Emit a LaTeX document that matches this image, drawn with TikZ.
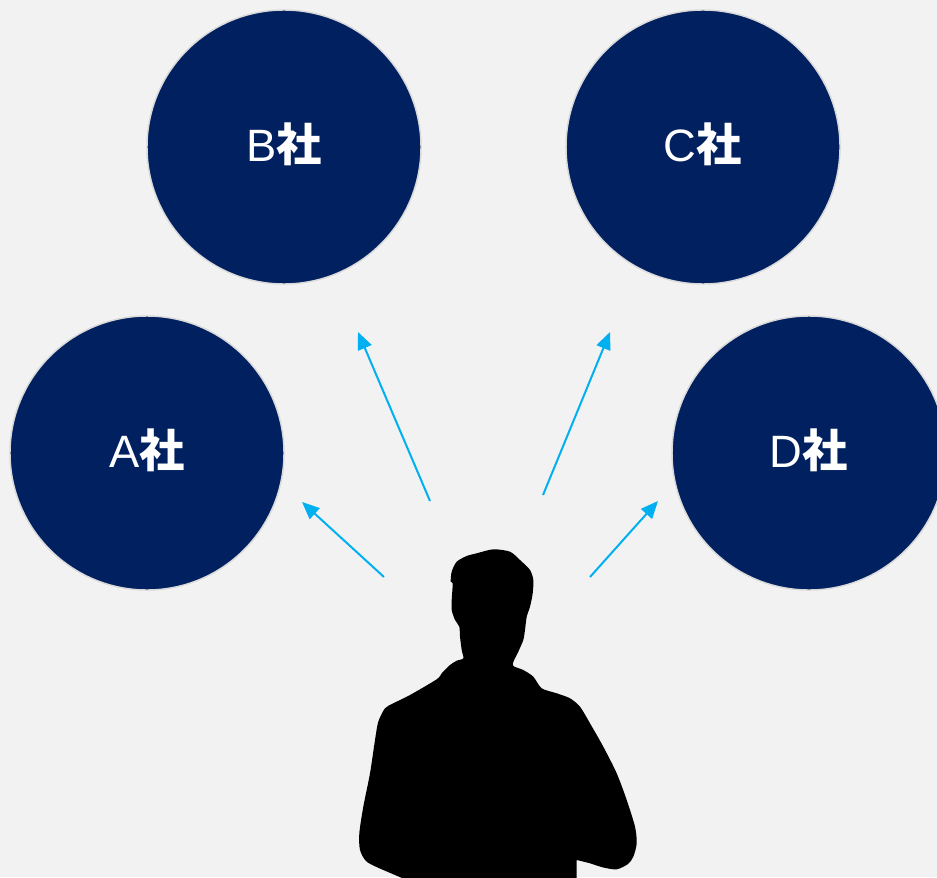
\documentclass[tikz,border=0pt]{standalone}
\usepackage{fontspec}
\setmainfont{Liberation Sans}
\newfontfamily\cjk{Noto Sans CJK JP}
\usetikzlibrary{arrows.meta}
\definecolor{bg}{HTML}{F2F2F2}
\definecolor{navy}{HTML}{002060}
\definecolor{rim}{HTML}{D9D9D9}
\definecolor{sky}{HTML}{00B0F0}
\begin{document}
\begin{tikzpicture}[x=0.75pt,y=-0.75pt,
  company/.style={circle,fill=navy,draw=rim,line width=1.1pt,minimum size=205.5pt,inner sep=0pt,
    text=white,font=\fontsize{34}{38}\selectfont},
  pointer/.style={draw=sky,line width=1.5pt,-{Triangle[length=13pt,width=11pt]}}]
\fill[bg] (0,0) rectangle (937,877);
\useasboundingbox (0,0) rectangle (937,877);
\begin{scope}
\clip (0,0) rectangle (937,877);
\node[company] (B) at (284,147) {};
\node[company] (C) at (703,147) {};
\node[company] (A) at (147,453) {};
\node[company] (D) at (809,453) {};
\end{scope}
\node[text=white,font=\fontsize{34}{38}\selectfont] (Bt) at ([yshift=2pt]B.center) {B{\cjk\bfseries 社}};
\node[text=white,font=\fontsize{34}{38}\selectfont] (Ct) at ([yshift=2pt]C.center) {C{\cjk\bfseries 社}};
\node[text=white,font=\fontsize{34}{38}\selectfont] (At) at ([yshift=2pt]A.center) {A{\cjk\bfseries 社}};
\node[text=white,font=\fontsize{34}{38}\selectfont] (Dt) at ([yshift=2pt]D.center) {D{\cjk\bfseries 社}};
\coordinate (a0) at (384,577); \coordinate (a1) at (302,502);
\coordinate (b0) at (430,501); \coordinate (b1) at (358,332);
\coordinate (c0) at (543,495); \coordinate (c1) at (610,332);
\coordinate (d0) at (590,577); \coordinate (d1) at (658,501);
\draw[pointer] (a0) -- (a1);
\draw[pointer] (b0) -- (b1);
\draw[pointer] (c0) -- (c1);
\draw[pointer] (d0) -- (d1);
% silhouette
\fill[black] (576.7,880) -- (406.7,880) -- plot[smooth,tension=0.45] coordinates {
(383.3,870) (366.7,861.7) (360,850) (359.3,833.3) (363.3,806.7) (370,773.3) (375,740)
(378.3,721.7) (385,708.3) (393.3,703.3) (410,695) (436.7,679.3) (441.7,673.3)
(450,665) (456.7,660.7) (463.3,658.3) (461.7,650) (460,636.7) (459.3,626.7)
(455,620) (451.7,610) (451.7,600) (452.7,583.3) (450.7,581.7) (451.7,571.7)
(456.7,561.7) (466.7,556) (476.7,553.3) (493.3,549.3) (510,551.7)
(520,560) (530,570) (533.3,580) (532.7,593.3) (530,606.7) (526.7,616.7) (525,630)
(523.3,640) (518.3,651.7) (512.7,665) (523.3,670) (533.3,676.7) (541.7,688.3)
(556.7,693.3) (570,698.3) (580,706.7) (590,723.3) (603.3,746.7) (616.7,773.3)
(626.7,800) (635,826.7) (636.7,843.3) (633.3,856.7) (628,864) (616.7,869.3)
(603.3,867.5) (590,863.3) (576.7,860)} -- cycle;
\end{tikzpicture}
\end{document}
